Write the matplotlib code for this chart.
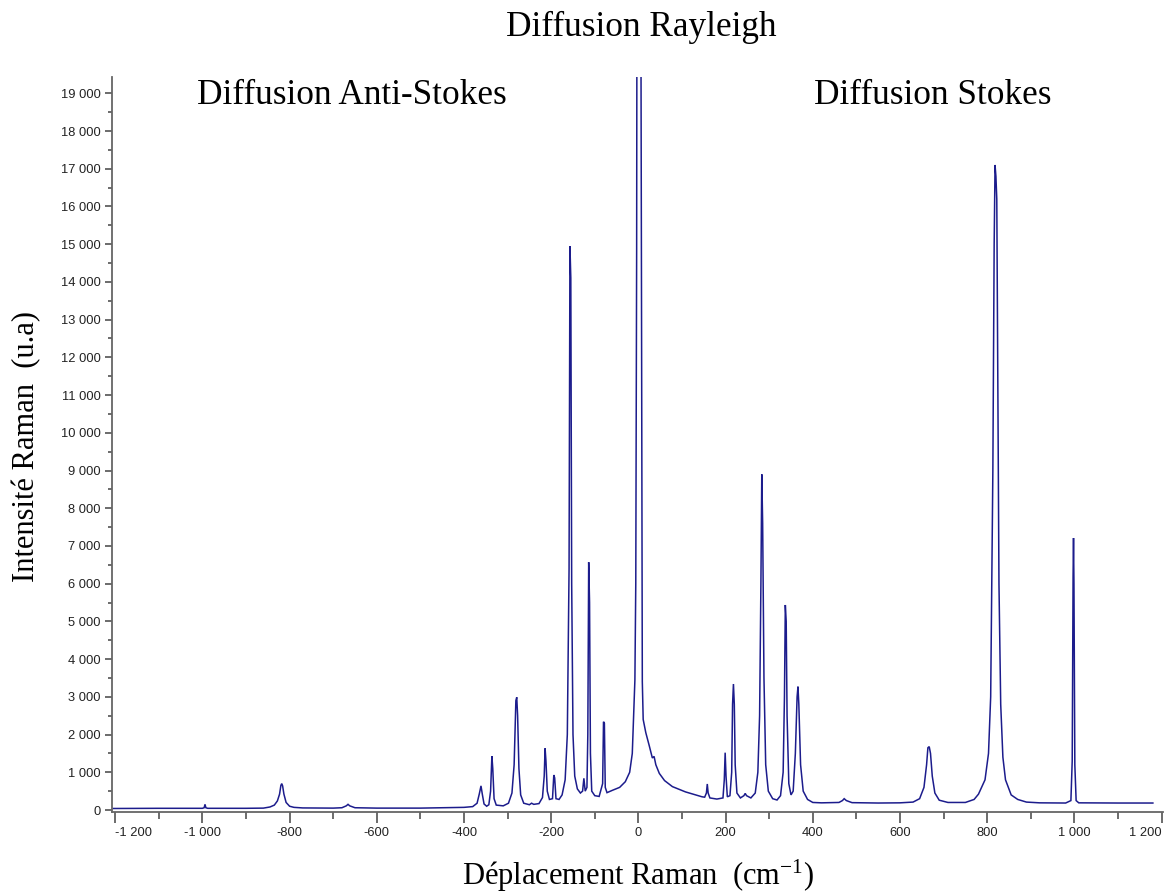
import matplotlib
matplotlib.use("Agg")
import matplotlib.pyplot as plt
from matplotlib.ticker import MultipleLocator, FuncFormatter

# Raman shift (cm-1) and intensity (a.u.)
shift = [
    -1205, -1100, -1000, -996, -994, -992, -988, -900, -860, -845, -835, -828, -823, -820, -818,
    -816, -813, -808, -800, -790, -770, -700, -680, -670, -666, -662, -650, -600, -500, -450,
    -400, -380, -370, -365, -361, -358, -354, -348, -343, -339, -336, -334, -331, -326, -310,
    -298, -290, -285, -281, -279, -277, -274, -270, -263, -250, -245, -240, -228, -220, -216,
    -214, -212, -209, -204, -197, -194, -192, -189, -182, -175, -168, -163, -159, -157, -155,
    -153, -150, -146, -140, -133, -128, -125, -122, -118, -116, -114, -112, -110, -107, -100,
    -90, -82, -80, -78, -76, -72, -60, -43, -30, -20, -14, -8, -6, -4, -3,
    5, 7, 9, 11, 17, 25, 32, 36, 40, 48, 60, 78, 108, 146, 152,
    156, 158, 160, 164, 180, 194, 197, 199, 201, 204, 210, 214, 216, 218, 220,
    222, 226, 234, 242, 245, 248, 258, 268, 274, 278, 281, 283, 285, 288, 292,
    298, 308, 318, 326, 332, 335, 337, 339, 341, 345, 350, 355, 360, 364, 366,
    368, 372, 378, 388, 400, 420, 460, 468, 472, 477, 490, 550, 600, 630, 645,
    655, 661, 664, 667, 670, 674, 680, 690, 710, 750, 770, 780, 795, 803, 808,
    813, 816, 818, 820, 822, 824, 827, 831, 836, 842, 855, 870, 890, 920, 980,
    992, 995, 997, 998, 999, 1001, 1004, 1010, 1100, 1180,
]
intensity = [
    40, 45, 45, 60, 150, 60, 45, 45, 50, 80, 130, 240, 420, 650, 700,
    640, 420, 200, 100, 70, 55, 50, 60, 110, 150, 110, 60, 50, 50, 60,
    70, 90, 180, 420, 640, 420, 160, 100, 140, 500, 1430, 1100, 300, 130, 110,
    180, 450, 1200, 2900, 2990, 2500, 1100, 400, 180, 140, 180, 150, 170, 330, 900,
    1635, 1300, 500, 280, 300, 928, 850, 300, 280, 400, 800, 2000, 6400, 14950, 14100,
    6000, 2000, 900, 560, 450, 500, 840, 500, 600, 2000, 6570, 5500, 1500, 500, 380,
    360, 700, 2340, 2300, 600, 460, 520, 600, 750, 1000, 1500, 3450, 6000, 14800, 25000,
    25000, 14800, 3400, 2400, 2050, 1700, 1380, 1420, 1200, 970, 780, 620, 480, 350, 340,
    450, 690, 450, 320, 290, 320, 800, 1520, 900, 350, 380, 1000, 2800, 3340, 2800,
    1200, 450, 320, 380, 440, 380, 320, 450, 1000, 2500, 6000, 8900, 7600, 3500, 1200,
    500, 300, 265, 380, 1000, 3000, 5435, 5000, 2500, 700, 400, 500, 1500, 3000, 3270,
    2800, 1200, 500, 280, 200, 190, 200, 250, 300, 250, 195, 185, 190, 210, 300,
    600, 1200, 1650, 1680, 1500, 900, 450, 260, 200, 200, 280, 420, 800, 1500, 3000,
    9000, 15000, 17100, 16800, 16200, 12000, 6000, 2800, 1400, 800, 400, 280, 210, 190, 185,
    250, 1300, 6200, 7210, 6000, 1200, 250, 190, 185, 185,
]

x_major = list(range(-1200, 1201, 200))
y_major = list(range(0, 19001, 1000))

title_text = "Diffusion Rayleigh"
left_text = "Diffusion Anti-Stokes"
right_text = "Diffusion Stokes"
xlabel_text = "Déplacement Raman  (cm$^{\\mathregular{-1}}$)"
ylabel_text = "Intensité Raman  (u.a)"

plt.rcParams["mathtext.fontset"] = "custom"
plt.rcParams["mathtext.rm"] = "Liberation Serif"
plt.rcParams["mathtext.it"] = "Liberation Serif"

SERIF = ["Liberation Serif", "DejaVu Serif"]
TICKF = ["Liberation Sans Narrow", "Liberation Sans", "DejaVu Sans"]

fig = plt.figure(figsize=(11.68, 8.94), dpi=100)
ax = fig.add_axes([111.7 / 1168, 82.3 / 894, (1162.9 - 111.7) / 1168, 734.4 / 894])

ax.plot(shift, intensity, color="#1c1c8c", lw=1.1, solid_joinstyle="miter")

ax.set_xlim(-1208, 1203)
ax.set_ylim(-45, 19424)

for s in ["top", "right"]:
    ax.spines[s].set_visible(False)
for s in ["left", "bottom"]:
    ax.spines[s].set_color("#666666")
    ax.spines[s].set_linewidth(1.3)

ax.xaxis.set_major_locator(plt.FixedLocator(x_major))
ax.xaxis.set_minor_locator(MultipleLocator(100))
ax.yaxis.set_major_locator(plt.FixedLocator(y_major))
ax.yaxis.set_minor_locator(MultipleLocator(500))


def fmt(v, pos=None):
    v = int(round(v))
    s = f"{abs(v):,}".replace(",", " ")
    return ("-" if v < 0 else "") + s


ax.xaxis.set_major_formatter(FuncFormatter(fmt))
ax.yaxis.set_major_formatter(FuncFormatter(fmt))

ax.tick_params(axis="x", which="major", length=8, width=1.1, color="#444444", pad=3)
ax.tick_params(axis="x", which="minor", length=5, width=1.1, color="#444444")
ax.tick_params(axis="y", which="major", length=5, width=1.1, color="#444444", pad=3)
ax.tick_params(axis="y", which="minor", length=3, width=1.1, color="#444444")

fig.canvas.draw()
xlabels = ax.get_xticklabels()
for lab in xlabels + ax.get_yticklabels():
    lab.set_family(TICKF)
    lab.set_fontsize(9.3)
    lab.set_color("#222222")
xlabels[0].set_horizontalalignment("left")
xlabels[-1].set_horizontalalignment("right")

fig.text(641 / 1168, 1 - 27 / 894, title_text, ha="center", va="center",
         family=SERIF, fontsize=25.4)
fig.text(352 / 1168, 1 - 95 / 894, left_text, ha="center", va="center",
         family=SERIF, fontsize=25.4)
fig.text(933 / 1168, 1 - 95 / 894, right_text, ha="center", va="center",
         family=SERIF, fontsize=25.4)
fig.text(638 / 1168, 1 - 876 / 894, xlabel_text, ha="center", va="center",
         family=SERIF, fontsize=22)
fig.text(27 / 1168, 1 - 446 / 894, ylabel_text, ha="center", va="center",
         rotation=90, family=SERIF, fontsize=22)

fig.savefig("out.png", dpi=100)
